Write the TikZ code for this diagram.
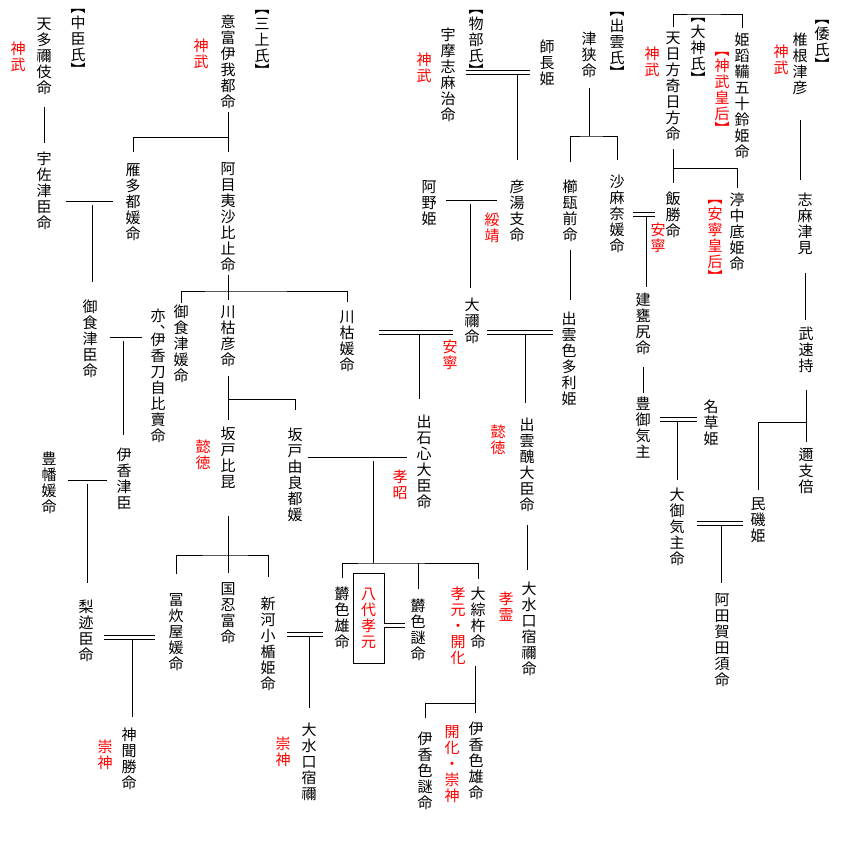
\documentclass[tikz,border=0pt]{standalone}
\usepackage{fontspec}
\setmainfont{Noto Sans CJK JP}
\usetikzlibrary{calc}
\definecolor{tenno}{RGB}{255,0,0}
\makeatletter
% stack the characters of #1 one under another
\newcommand\tate[1]{%
  \let\tate@out\@empty
  \@tfor\tate@ch:=#1\do{%
    \ifx\tate@out\@empty\edef\tate@out{\tate@ch}%
    \else\edef\tate@out{\unexpanded\expandafter{\tate@out}\noexpand\\\unexpanded\expandafter{\tate@ch}}\fi}%
  \tate@out}
\makeatother
\newcommand\uji[1]{︻\\\tate{#1}\\[-1pt]︼}
\tikzset{
    nm/.style={font={\fontsize{15}{16}\selectfont},align=center,inner sep=0pt,anchor=north},
    gen/.style={nm,text=tenno},
    ln/.style={line width=0.75pt},
    dbl/.style={line width=0.75pt,double,double distance=3pt},
}
\begin{document}
\begin{tikzpicture}[x=1pt,y=-1pt]
\path[use as bounding box,fill=white] (0,0) rectangle (841,851);
% 中臣氏
\node[nm] (nakatomi) at (78,9) {\uji{中臣氏}};
\node[nm] (amatane) at (44,18) {\tate{天多禰伎命}};
\node[gen] (jm1) at (18,42) {\tate{神武}};
\node[nm] (usatsu) at (44,152) {\tate{宇佐津臣命}};
\node[nm] (mikeomi) at (90,300) {\tate{御食津臣命}};
\node[nm] (ikatsu) at (124,448) {\tate{伊香津臣}};
\node[nm] (toyohata) at (49,452) {\tate{豊幡媛命}};
\node[nm] (nashito) at (86,600) {\tate{梨迹臣命}};
\node[nm] (kamikiki) at (129,728) {\tate{神聞勝命}};
\node[gen] (sj1) at (105,740) {\tate{崇神}};
% 三上氏
\node[nm] (mikami) at (262,10) {\uji{三上氏}};
\node[nm] (otomi) at (228,15) {\tate{意富伊我都命}};
\node[gen] (jm2) at (201,39) {\tate{神武}};
\node[nm] (karitatsu) at (133,163) {\tate{雁多都媛命}};
\node[nm] (amenohi) at (228,162) {\tate{阿目夷沙比止命}};
\node[nm] (mikehime) at (181,305) {\tate{御食津媛命}};
\node[nm] (mata) at (158,309) {亦\\︑\\[-8pt]伊\\香\\刀\\自\\比\\賣\\命};
\node[nm] (kawahiko) at (228,305) {\tate{川枯彦命}};
\node[nm] (kawahime) at (347,310) {\tate{川枯媛命}};
\node[nm] (sakahiko) at (228,427) {\tate{坂戸比昆}};
\node[gen] (it1) at (203,440) {\tate{懿徳}};
\node[nm] (yurato) at (295,428) {\tate{坂戸由良都媛}};
\node[nm] (tomikashi) at (176,593) {\tate{冨炊屋媛命}};
\node[nm] (kunioshi) at (228,582) {\tate{国忍富命}};
\node[nm] (niikawa) at (268,597) {\tate{新河小楯姫命}};
\node[nm] (mizuguchi2) at (309,723) {\tate{大水口宿禰}};
\node[gen] (sj2) at (283,737) {\tate{崇神}};
% 物部氏
\node[nm] (mononobe) at (476,10) {\uji{物部氏}};
\node[nm] (umashi) at (448,28) {\tate{宇摩志麻治命}};
\node[gen] (jm3) at (424,53) {\tate{神武}};
\node[nm] (moronaga) at (547,40) {\tate{師長姫}};
\node[nm] (hikoyu) at (517,180) {\tate{彦湯支命}};
\node[gen] (sz) at (492,213) {\tate{綏靖}};
\node[nm] (ano) at (429,180) {\tate{阿野姫}};
\node[nm] (oone) at (472,298) {\tate{大禰命}};
\node[gen] (an1) at (450,340) {\tate{安寧}};
\node[nm] (izushi) at (424,415) {\tate{出石心大臣命}};
\node[gen] (ks) at (400,470) {\tate{孝昭}};
\node[nm] (shiko) at (527,418) {\tate{出雲醜大臣命}};
\node[gen] (it2) at (498,425) {\tate{懿徳}};
\node[nm] (mizuguchi1) at (529,582) {\tate{大水口宿禰命}};
\node[gen] (kr) at (506,592) {\tate{孝霊}};
\node[nm] (shikoo) at (342,587) {\tate{欝色雄命}};
\node[gen,draw=black,ln,anchor=center,minimum width=31pt,minimum height=90pt] (hachidai) at (368.5,618) {\tate{八代孝元}};
\node[nm] (shikome) at (418,599) {\tate{欝色謎命}};
\node[nm] (ohesoki) at (478,587) {\tate{大綜杵命}};
\node[gen] (kg1) at (458,587) {\tate{孝元・開化}};
\node[nm] (ikaoo) at (476,722) {\tate{伊香色雄命}};
\node[gen] (kg2) at (452,725) {\tate{開化・崇神}};
\node[nm] (ikame) at (425,732) {\tate{伊香色謎命}};
% 出雲氏
\node[nm] (izumo) at (617,12) {\uji{出雲氏}};
\node[nm] (tsusa) at (589,32) {\tate{津狭命}};
\node[nm] (kushimika) at (570,180) {\tate{櫛瓺前命}};
\node[nm] (samana) at (617,175) {\tate{沙麻奈媛命}};
\node[nm] (shikotari) at (569,312) {\tate{出雲色多利姫}};
% 大神氏
\node[nm] (oomiwa) at (698,18) {\uji{大神氏}};
\node[nm] (hikata) at (673,32) {\tate{天日方奇日方命}};
\node[gen] (jm4) at (652,47) {\tate{神武}};
\node[nm] (isuzu) at (742,33) {\tate{姫蹈鞴五十鈴姫命}};
\node[gen] (kogo1) at (722,52) {\uji{神武皇后}};
\node[nm] (iikatsu) at (673,192) {\tate{飯勝命}};
\node[gen] (an2) at (658,223) {\tate{安寧}};
\node[nm] (nunasoko) at (737,193) {\tate{渟中底姫命}};
\node[gen] (kogo2) at (715,200) {\uji{安寧皇后}};
\node[nm] (mikajiri) at (643,293) {\tate{建甕尻命}};
\node[nm] (toyomike) at (643,397) {\tate{豊御気主}};
\node[nm] (nagusa) at (711,400) {\tate{名草姫}};
\node[nm] (oomike) at (677,488) {\tate{大御気主命}};
\node[nm] (atakata) at (722,593) {\tate{阿田賀田須命}};
% 倭氏
\node[nm] (yamato) at (822,20) {\uji{倭氏}};
\node[nm] (shiine) at (800,33) {\tate{椎根津彦}};
\node[gen] (jm5) at (781,45) {\tate{神武}};
\node[nm] (shimatsumi) at (805,193) {\tate{志麻津見}};
\node[nm] (takehaya) at (806,327) {\tate{武速持}};
\node[nm] (nikihe) at (806,448) {\tate{邇支倍}};
\node[nm] (hiso) at (758,497) {\tate{民磯姫}};

% lines: 中臣氏
\draw[ln,shorten <=12pt,shorten >=9pt] (amatane.south) -- (usatsu.north);
\coordinate (w1) at (92,203);
\draw[dbl,shorten <=14pt,shorten >=12pt] (usatsu.east |- w1) -- (karitatsu.west |- w1);
\draw[ln,shorten >=18pt] (w1) ++(0,2) -- (w1 |- mikeomi.north);
\coordinate (w2) at (123,339);
\draw[dbl,shorten <=12pt,shorten >=8pt] (mikeomi.east |- w2) -- (mata.west |- w2);
\draw[ln,shorten >=13pt] (w2) ++(0,2) -- (w2 |- ikatsu.north);
\coordinate (w3) at (87,482);
\draw[dbl,shorten <=11pt,shorten >=9pt] (toyohata.east |- w3) -- (ikatsu.west |- w3);
\draw[ln,shorten >=17pt] (w3) ++(0,2) -- (w3 |- nashito.north);
\coordinate (w4) at (132,637.5);
\draw[dbl,shorten <=10pt,shorten >=13pt] (nashito.east |- w4) -- (tomikashi.west |- w4);
\draw[ln,shorten >=11pt] (w4) ++(0,2) -- (w4 |- kamikiki.north);
% 三上氏
\coordinate (b1) at (228,137);
\draw[ln,shorten <=3pt,shorten >=10pt] (otomi.south) -- (amenohi.north);
\draw[ln] (karitatsu.north) ++(0,-11) |- (b1);
\coordinate (b2) at (228,291);
\draw[ln,shorten <=3pt,shorten >=5pt] (amenohi.south) -- (kawahiko.north);
\draw[ln,shorten >=8pt] (mikehime.north) ++(0,-2) |- (b2) -| (kawahime.north);
\coordinate (b3) at (228,399);
\draw[ln,shorten <=10pt,shorten >=7pt] (kawahiko.south) -- (sakahiko.north);
\draw[ln,shorten >=18pt] (b3) -| (yurato.north);
\coordinate (b4) at (228,555);
\draw[ln,shorten <=27pt,shorten >=9pt] (sakahiko.south) -- (kunioshi.north);
\draw[ln,shorten >=20pt] (tomikashi.north) ++(0,-19) |- (b4) -| (niikawa.north);
\coordinate (w5) at (309,634.5);
\draw[dbl,shorten <=11pt,shorten >=11pt] (niikawa.east |- w5) -- (shikoo.west |- w5);
\draw[ln,shorten >=15pt] (w5) ++(0,2.5) -- (w5 |- mizuguchi2.north);
% 物部氏
\coordinate (w6) at (517,72.5);
\draw[dbl,shorten <=10pt,shorten >=9pt] (umashi.east |- w6) -- (moronaga.west |- w6);
\draw[ln,shorten >=20pt] (w6) ++(0,2) -- (w6 |- hikoyu.north);
\coordinate (w7) at (470,202);
\draw[dbl,shorten <=9pt,shorten >=12pt] (ano.east |- w7) -- (hikoyu.west |- w7);
\draw[ln,shorten >=10pt] (w7) ++(0,2) -- (w7 |- oone.north);
\coordinate (w8) at (419,332.5);
\draw[dbl,shorten <=24pt,shorten >=11pt] (kawahime.east |- w8) -- (oone.west |- w8);
\draw[ln,shorten >=16pt] (w8) ++(0,2) -- (w8 |- izushi.north);
\coordinate (w9) at (525,332.5);
\draw[dbl,shorten <=7pt,shorten >=8pt] (oone.east |- w9) -- (shikotari.west |- w9);
\draw[ln,shorten >=15pt] (w9) ++(0,2) -- (w9 |- shiko.north);
\draw[ln,shorten <=13pt,shorten >=12pt] (shiko.south) -- (shiko.south |- mizuguchi1.north);
\coordinate (w10) at (373,459);
\draw[dbl,shorten <=5pt,shorten >=9pt] (yurato.east |- w10) -- (izushi.west |- w10);
\coordinate (b5) at (373,563);
\draw[ln] (w10) ++(0,2) -- (b5);
\draw[ln,shorten >=8pt] (shikoo.north) ++(0,-9) |- (b5) -| (ohesoki.north);
\draw[ln,shorten <=10pt] (shikome.north) -- (shikome.north |- b5);
\coordinate (w11) at (394,625.5);
\draw[dbl,shorten >=5pt] (hachidai.east |- w11) -- (shikome.west |- w11);
\coordinate (b6) at (475,703);
\draw[ln,shorten <=17pt,shorten >=9pt] (b6 |- ohesoki.south) -- (b6 |- ikaoo.north);
\draw[ln,shorten >=14pt] (b6) -| (ikame.north);
% 出雲氏
\coordinate (b7) at (589,136);
\draw[ln,shorten <=10pt] (tsusa.south) -- (b7);
\draw[ln,shorten >=15pt] (kushimika.north) ++(0,-18) |- (b7) -| (samana.north);
\draw[ln,shorten <=8pt,shorten >=12pt] (kushimika.south) -- (kushimika.south |- shikotari.north);
\coordinate (w12) at (646,214.5);
\draw[dbl,shorten <=8pt,shorten >=10pt] (samana.east |- w12) -- (iikatsu.west |- w12);
\draw[ln,shorten >=6pt] (w12) ++(0,2) -- (w12 |- mikajiri.north);
% 大神氏
\coordinate (b8) at (700,14);
\draw[ln,shorten <=5pt,shorten >=5pt] (hikata.north) |- (b8) -| (isuzu.north);
\coordinate (b9) at (673,168);
\draw[ln,shorten <=8pt,shorten >=9pt] (hikata.south) -- (iikatsu.north);
\draw[ln,shorten >=5pt] (b9) -| (nunasoko.north);
\draw[ln,shorten <=12pt,shorten >=4pt] (mikajiri.south) -- (toyomike.north);
\coordinate (w13) at (677,419.5);
\draw[dbl,shorten <=9pt,shorten >=6pt] (toyomike.east |- w13) -- (nagusa.west |- w13);
\draw[ln,shorten >=8pt] (w13) ++(0,2) -- (w13 |- oomike.north);
\coordinate (w14) at (721,523.5);
\draw[dbl,shorten <=12pt,shorten >=7pt] (oomike.east |- w14) -- (hiso.west |- w14);
\draw[ln,shorten >=10pt] (w14) ++(0,2) -- (w14 |- atakata.north);
% 倭氏
\draw[ln,shorten <=25pt,shorten >=13pt] (shiine.south) -- (shiine.south |- shimatsumi.north);
\draw[ln,shorten <=18pt,shorten >=7pt] (shimatsumi.south) -- (shimatsumi.south |- takehaya.north);
\coordinate (b10) at (806,422);
\draw[ln,shorten <=17pt,shorten >=6pt] (takehaya.south) -- (nikihe.north);
\draw[ln,shorten >=7pt] (b10) -| (hiso.north);
\end{tikzpicture}
\end{document}
